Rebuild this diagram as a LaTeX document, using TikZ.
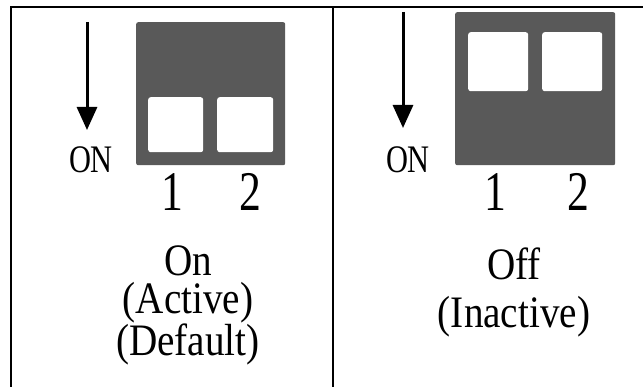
\documentclass[tikz,border=0pt]{standalone}
\usepackage{fontspec}
\setmainfont[FakeStretch=0.78]{Liberation Serif}
\newfontfamily\statefont[FakeStretch=0.87]{Liberation Serif}
\usepackage{tikz}
\usetikzlibrary{arrows.meta,%
                positioning}

\definecolor{switchgray}{HTML}{595959}

\begin{document}
\begin{tikzpicture}[x=1pt,y=-1pt,
    rule/.style={line width=2.2pt},
    body/.style={rectangle,fill=switchgray,rounded corners=2pt,inner sep=0pt,anchor=north west},
    key/.style={rectangle,fill=white,rounded corners=2.5pt,inner sep=0pt,anchor=north west},
    onarrow/.style={line width=3pt,-{Triangle[length=23pt,width=20pt]}},
    onlabel/.style={inner sep=0pt,anchor=base,font=\fontsize{39}{39}\selectfont},
    numlabel/.style={inner sep=0pt,anchor=base,font=\fontsize{56}{56}\selectfont},
    statelabel/.style={inner sep=0pt,anchor=base,align=center,font=\statefont\fontsize{45}{38}\selectfont}]
\useasboundingbox (0,0) rectangle (643,387);

% table rules
\coordinate (TL) at (10,7);
\coordinate (TR) at (643,7);
\coordinate (BL) at (11,387);
\coordinate (TM) at (333,7);
\coordinate (BM) at (333,387);
\draw[rule] (TL) -- (TR);
\draw[rule] (11,7) -- (BL);
\draw[rule] (TM) -- (BM);

% left: switches on
\node[body,minimum width=149pt,minimum height=143pt] (bodyL) at (136,22) {};
\node[key,minimum width=55pt,minimum height=55pt] (keyLa) at (148,97) {};
\node[key,minimum width=56pt,minimum height=55pt] (keyLb) at (217,97) {};
\coordinate (arrL) at (87,22);
\coordinate (tipL) at (87,130);
\draw[onarrow] (arrL) -- (tipL);
\node[onlabel] (onL) at (91,173) {ON};
\node[numlabel] (oneL) at (172,211) {1};
\node[numlabel] (twoL) at (250,211) {2};
\node[statelabel] (stateL) at (188,356) {On\\(Active)\\(Default)};

% right: switches off
\node[body,minimum width=160pt,minimum height=153pt] (bodyR) at (455,12) {};
\node[key,minimum width=60pt,minimum height=59pt] (keyRa) at (468,32) {};
\node[key,minimum width=60pt,minimum height=59pt] (keyRb) at (542,32) {};
\coordinate (arrR) at (403,12);
\coordinate (tipR) at (403,128);
\draw[onarrow] (arrR) -- (tipR);
\node[onlabel] (onR) at (408,173) {ON};
\node[numlabel] (oneR) at (495,211) {1};
\node[numlabel] (twoR) at (578,211) {2};
\node[statelabel] (stateR) at (514,328) {Off\\[10pt](Inactive)};
\end{tikzpicture}
\end{document}
